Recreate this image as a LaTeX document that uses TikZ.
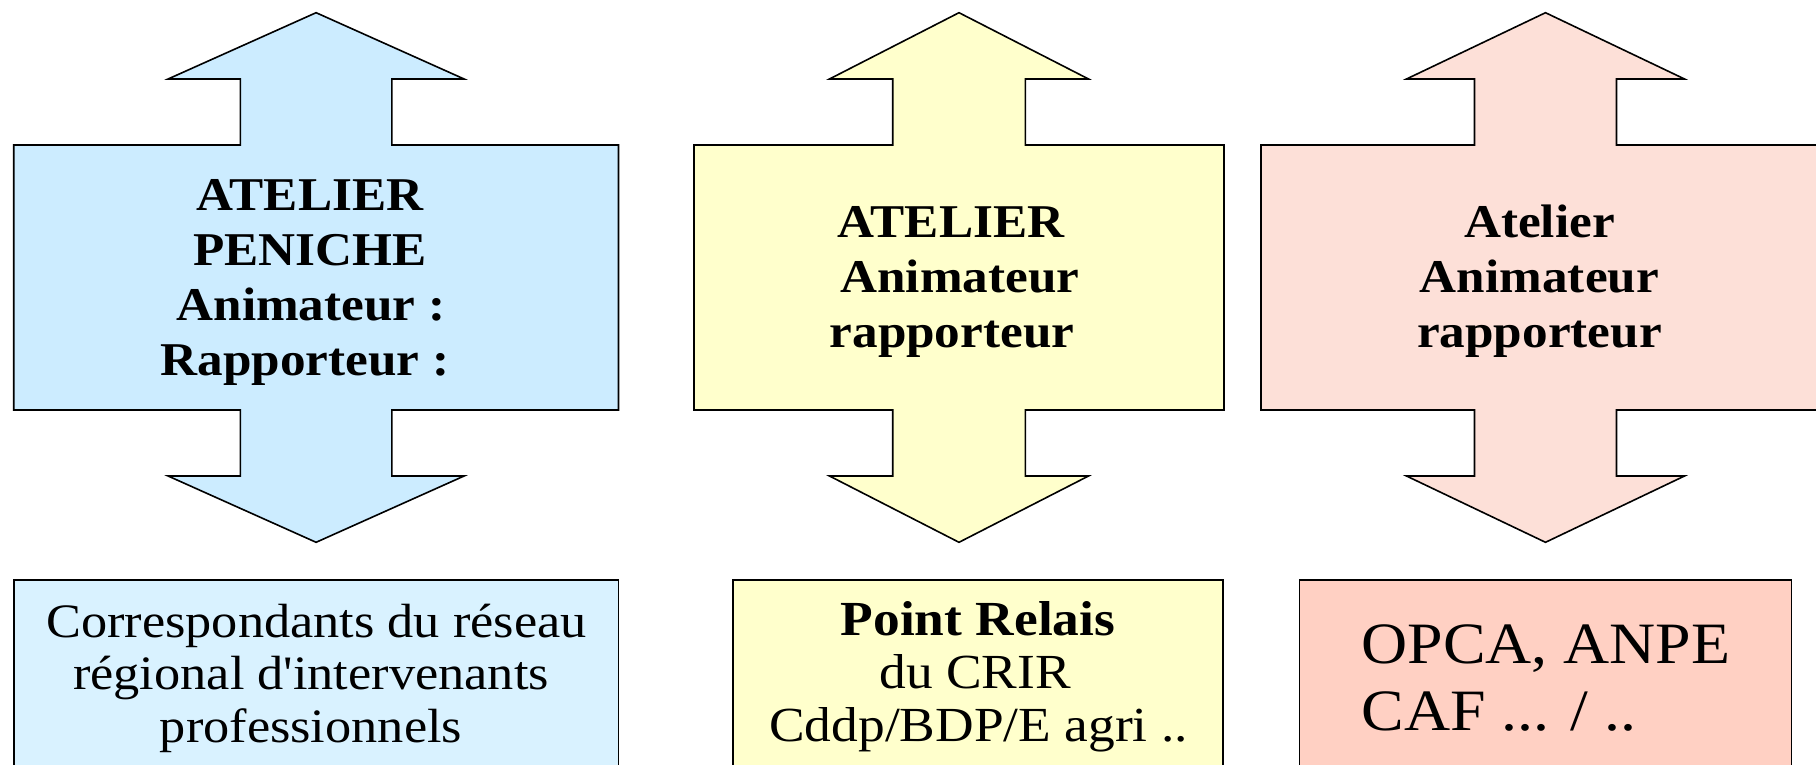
\documentclass[tikz,border=0pt]{standalone}
\usepackage{fontspec}
\setmainfont{Liberation Serif}[FakeStretch=1.09,Ligatures=TeXOff]
\definecolor{bluearr}{HTML}{CCECFF}
\definecolor{bluebox}{HTML}{D9F2FF}
\definecolor{yelarr}{HTML}{FFFFCC}
\definecolor{yelbox}{HTML}{FFFFCC}
\definecolor{pinkarr}{HTML}{FDE0D8}
\definecolor{pinkbox}{HTML}{FFD0C3}
\tikzset{
  shapeline/.style={draw=black, line width=0.8pt, line join=miter},
  toptxt/.style={anchor=base, inner sep=0pt, font=\fontsize{23.5}{27.5}\selectfont\bfseries},
  bottxt/.style={anchor=base, inner sep=0pt, font=\fontsize{24.5}{26.5}\selectfont},
  bluetxt/.style={anchor=base, inner sep=0pt, font=\fontsize{24}{26.5}\selectfont},
  bigtxt/.style={anchor=base west, inner sep=0pt, font=\fontsize{29.3}{33.6}\selectfont},
}
\newcommand\dblarr[5]{%
  \filldraw[shapeline, fill=#5]
    (#1,12.7) -- (#1+#2,79) -- (#1+#3,79) -- (#1+#3,145) -- (#1+#4,145)
    -- (#1+#4,410) -- (#1+#3,410) -- (#1+#3,476) -- (#1+#2,476)
    -- (#1,542.3) -- (#1-#2,476) -- (#1-#3,476) -- (#1-#3,410) -- (#1-#4,410)
    -- (#1-#4,145) -- (#1-#3,145) -- (#1-#3,79) -- (#1-#2,79) -- cycle;}
\begin{document}
\begin{tikzpicture}[x=0.5pt,y=-0.5pt]
\useasboundingbox (0,0) rectangle (1816,765);
\clip (0,0) rectangle (1816,765);
% double arrows
\dblarr{316.1}{148}{75.8}{302.4}{bluearr}
\dblarr{959}{129.5}{66.3}{265}{yelarr}
\dblarr{1545.5}{139}{71}{284.5}{pinkarr}
% bottom boxes
\filldraw[shapeline, fill=bluebox] (13.7,800) -- (13.7,580) -- (618.5,580) -- (618.5,800);
\filldraw[shapeline, fill=yelbox] (732.8,800) -- (732.8,580) -- (1223,580) -- (1223,800);
\filldraw[shapeline, fill=pinkbox] (1299.5,800) -- (1299.5,580) -- (1791.5,580) -- (1791.5,800);
% top texts
\node[toptxt] (a1) at (310,210) {ATELIER};
\node[toptxt] (a2) at (310,265) {PENICHE};
\node[toptxt] (a3) at (311,320) {Animateur :};
\node[toptxt] (a4) at (305,375) {Rapporteur :};
\node[toptxt] (y1) at (951,237) {ATELIER};
\node[toptxt] (y2) at (960,292) {Animateur};
\node[toptxt] (y3) at (952,347) {rapporteur};
\node[toptxt] (p1) at (1539.5,237) {Atelier};
\node[toptxt] (p2) at (1539.5,292) {Animateur};
\node[toptxt] (p3) at (1539.5,347) {rapporteur};
% bottom texts
\node[bluetxt] (c1) at (316.5,637) {Correspondants du réseau};
\node[bluetxt] (c2) at (311,689) {régional d'intervenants};
\node[bluetxt] (c3) at (311,742) {professionnels};
\node[bottxt, font=\fontsize{24.5}{26.5}\selectfont\bfseries] (r1) at (978,635) {Point Relais};
\node[bottxt] (r2) at (975,688) {du CRIR};
\node[bottxt] (r3) at (978.5,741) {Cddp/BDP/E agri ..};
\node[bigtxt] (o1) at (1361,663.6) {OPCA, ANPE};
\node[bigtxt] (o2) at (1361,730.8) {CAF ... / ..};
\end{tikzpicture}
\end{document}
